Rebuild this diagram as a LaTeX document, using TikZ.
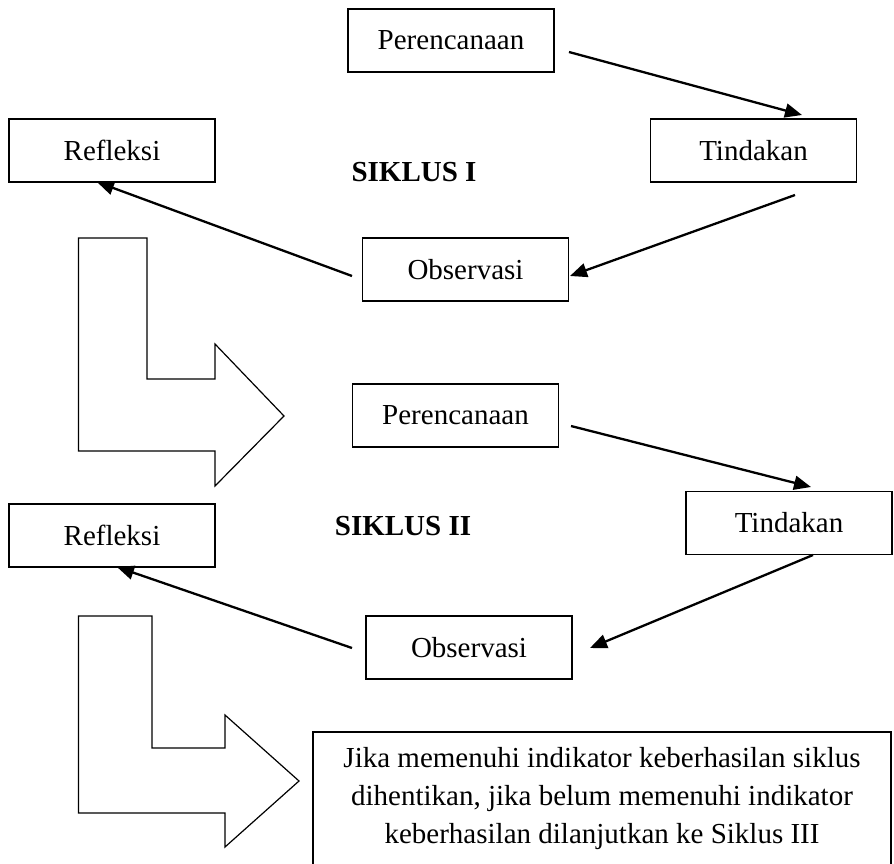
\documentclass[tikz,border=0pt]{standalone}
\usepackage{fontspec}
\setmainfont{Liberation Serif}
\usetikzlibrary{arrows.meta}
\begin{document}
\begin{tikzpicture}[x=1pt,y=-1pt,
  box/.style={draw,line width=1.6pt,minimum width=206pt,minimum height=63pt,inner sep=0pt,font=\fontsize{29}{35}\selectfont},
  conn/.style={line width=2.3pt,-{Triangle[length=17pt,width=14pt]}},
  larrow/.style={draw,line width=1.2pt,line join=miter},
  title/.style={font=\fontsize{29}{35}\selectfont\bfseries}]
\useasboundingbox (0,0) rectangle (894,864);
% cycle I
\node[box] (P1) at (451,40.5) {Perencanaan};
\node[box] (T1) at (753.5,150.5) {Tindakan};
\node[box] (R1) at (112,150.5) {Refleksi};
\node[box] (O1) at (465.5,269.5) {Observasi};
\node[title] (S1) at (414,172) {SIKLUS I};
\coordinate (a1s) at (569,52);   \coordinate (a1e) at (802,115);
\coordinate (a2s) at (795,195);  \coordinate (a2e) at (570,276);
\coordinate (a3s) at (352,276);  \coordinate (a3e) at (97,182);
\draw[conn] (a1s) -- (a1e);
\draw[conn] (a2s) -- (a2e);
\draw[conn] (a3s) -- (a3e);
\draw[larrow] (78.5,238) -- (147,238) -- (147,379) -- (215,379) -- (215,344) -- (284,416) -- (215,486) -- (215,451) -- (78.5,451) -- cycle;
% cycle II
\node[box] (P2) at (455.5,415.5) {Perencanaan};
\node[box] (T2) at (789,523) {Tindakan};
\node[box] (R2) at (112,535.5) {Refleksi};
\node[box] (O2) at (469,647.5) {Observasi};
\node[title] (S2) at (403,526) {SIKLUS II};
\coordinate (b1s) at (571,426);  \coordinate (b1e) at (811,487);
\coordinate (b2s) at (813,555);  \coordinate (b2e) at (590,648);
\coordinate (b3s) at (352,648);  \coordinate (b3e) at (117,567);
\draw[conn] (b1s) -- (b1e);
\draw[conn] (b2s) -- (b2e);
\draw[conn] (b3s) -- (b3e);
\draw[larrow] (78.5,616) -- (152,616) -- (152,748) -- (225,748) -- (225,715) -- (299,781) -- (225,847) -- (225,813) -- (78.5,813) -- cycle;
% final box
\node[draw,line width=1.6pt,minimum width=578pt,minimum height=160pt,anchor=north,inner sep=0pt] (F) at (602,731) {};
\node[align=center,font=\fontsize{29}{38}\selectfont] (Ft) at (602,799) {Jika memenuhi indikator keberhasilan siklus\\dihentikan, jika belum memenuhi indikator\\keberhasilan dilanjutkan ke Siklus III};
\end{tikzpicture}
\end{document}
